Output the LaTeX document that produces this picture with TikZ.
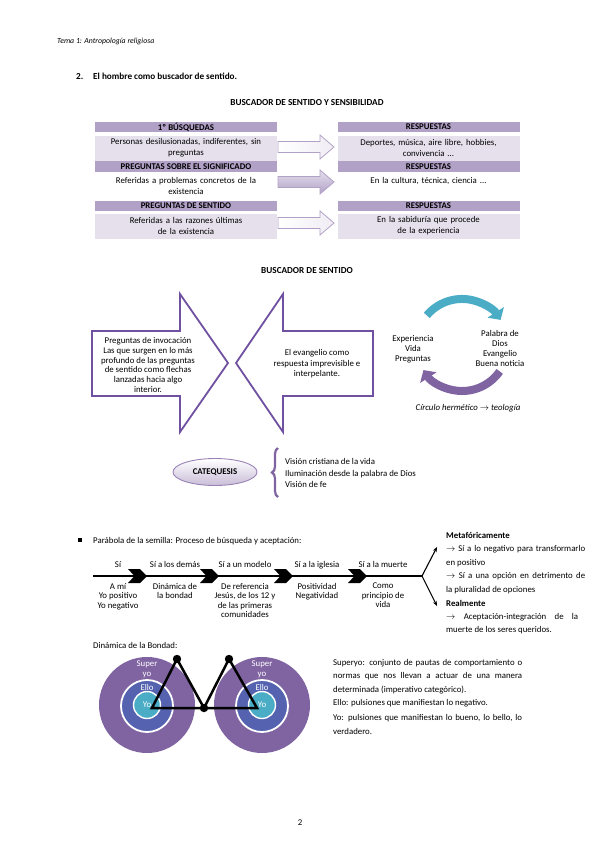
\documentclass[tikz,border=0pt]{standalone}
\usepackage{fontspec}
\setmainfont{Carlito}
\usetikzlibrary{arrows.meta,decorations.pathreplacing,shapes.geometric}
\definecolor{hdrc}{RGB}{178,161,199}
\definecolor{lightc}{RGB}{229,224,236}
\definecolor{purplec}{RGB}{128,100,162}
\definecolor{darkpc}{RGB}{112,80,160}
\definecolor{tealc}{RGB}{75,172,198}
\definecolor{bluec}{RGB}{84,98,176}
\newcommand\fsz{\fontsize{8.8}{10}\selectfont}
\newcommand\fsm{\fontsize{7.8}{9}\selectfont}
\newcommand\fst{\fontsize{9.2}{11}\selectfont}
\tikzset{
  every node/.style={inner sep=0pt, font=\fsz},
  hdr/.style={fill=hdrc, minimum width=182pt, minimum height=10.5pt, font=\fsz\bfseries},
  cell/.style={minimum width=182pt, minimum height=25pt, align=center, text width=178pt, font=\fontsize{8.8}{11}\selectfont},
  tabarrow/.style={draw=hdrc, line width=0.8pt, left color=white, right color=lightc!60},
  tabarrowfill/.style={draw=hdrc, line width=0.8pt, top color=lightc, bottom color=hdrc},
  bigarrow/.style={draw=darkpc, line width=1.8pt, fill=white, line join=miter},
  lbl/.style={anchor=base, align=center, font=\fsz},
  ring/.style={circle, draw=white, line width=1.8pt},
}
\newcommand\tarrow[2]{\draw[#2] (278,#1-5.5)--(320,#1-5.5)--(320,#1-12)--(334,#1)--(320,#1+12)--(320,#1+5.5)--(278,#1+5.5)--cycle;}
\newcommand\chevron[1]{\fill (#1,569)--(#1+12,569)--(#1+19,576)--(#1+12,583)--(#1,583)--(#1+6.5,576)--cycle;}
\begin{document}
\begin{tikzpicture}[x=1pt,y=-1pt]
\useasboundingbox (0,0) rectangle (599,848);
\fill[white] (0,0) rectangle (599,848);

% header
\node[anchor=base west, font=\fsm\itshape] (tema) at (57,44) {Tema 1: Antropología religiosa};
\node[anchor=base west, font=\fst\bfseries] (num) at (76,80) {2.};
\node[anchor=base west, font=\fst\bfseries] (tit) at (93,80) {El hombre como buscador de sentido.};
\node[anchor=base, font=\fst\bfseries] (t1) at (307,106) {BUSCADOR DE SENTIDO Y SENSIBILIDAD};

% table
\node[hdr] (h1) at (186,127) {1º BÚSQUEDAS};
\node[cell, fill=lightc] (c1) at (186,148) {Personas desilusionadas, indiferentes, sin\\preguntas};
\node[hdr] (h2) at (186,166.5) {PREGUNTAS SOBRE EL SIGNIFICADO};
\node[cell] (c2) at (186,186) {Referidas a problemas concretos de la\\existencia};
\node[hdr] (h3) at (186,206) {PREGUNTAS DE SENTIDO};
\node[cell, fill=lightc] (c3) at (186,226) {Referidas a las razones últimas\\de la existencia};

\node[hdr] (r1) at (428.5,127) {RESPUESTAS};
\node[cell, fill=lightc] (d1) at (428.5,148) {Deportes, música, aire libre, hobbies,\\convivencia ...};
\node[hdr] (r2) at (428.5,166.5) {RESPUESTAS};
\node[cell] (d2) at (428.5,186) {En la cultura, técnica, ciencia ...\\\mbox{}};
\node[hdr] (r3) at (428.5,206) {RESPUESTAS};
\node[cell, fill=lightc] (d3) at (428.5,226) {En la sabiduría que procede\\de la experiencia};

\tarrow{147}{tabarrow}
\tarrow{182}{tabarrowfill}
\tarrow{223}{tabarrow}

% buscador de sentido
\node[anchor=base, font=\fst\bfseries] (t2) at (307,273) {BUSCADOR DE SENTIDO};
\draw[bigarrow] (92,331)--(180,331)--(180,294)--(228,363)--(180,432)--(180,396)--(92,396)--cycle;
\draw[bigarrow] (373,331)--(283,331)--(283,294)--(236,363)--(283,432)--(283,396)--(373,396)--cycle;
\node[align=center, font=\fontsize{8.8}{9.8}\selectfont] (inv) at (148,365) {Preguntas de invocación\\Las que surgen en lo más\\profundo de las preguntas\\de sentido como flechas\\lanzadas hacia algo\\interior.};
\node[align=center, font=\fontsize{8.8}{10.5}\selectfont] (evg) at (317,364) {El evangelio como\\respuesta imprevisible e\\interpelante.};

% cycle
\draw[line width=8pt, tealc, -{Triangle[length=9pt,width=19pt]}] (426.8,315.4) arc[start angle=-140, end angle=-33, radius=46];
\draw[line width=8pt, purplec, -{Triangle[length=9pt,width=19pt]}] (499.7,371.4) arc[start angle=35, end angle=147, radius=46];
\node[align=center, font=\fontsize{8.8}{9.8}\selectfont] (exp) at (413,349) {Experiencia\\Vida\\Preguntas};
\node[align=center, font=\fontsize{8.8}{9.8}\selectfont] (pal) at (500,348.5) {Palabra de\\Dios\\Evangelio\\Buena noticia};
\node[anchor=base, font=\fsz\itshape] (circ) at (468,410) {Círculo hermético $\rightarrow$ teología};

% catequesis
\node[ellipse, minimum width=84pt, minimum height=27pt, draw=purplec!80, line width=0.9pt, top color=white, bottom color=hdrc!70, font=\fsz\bfseries] (cat) at (215,472) {CATEQUESIS};
\draw[purplec, line width=2.2pt, decorate, decoration={brace, amplitude=6pt}] (278,497) -- (278,448);
\node[anchor=base west] (v1) at (285,464) {Visión cristiana de la vida};
\node[anchor=base west] (v2) at (285,476) {Iluminación desde la palabra de Dios};
\node[anchor=base west] (v3) at (285,487.5) {Visión de fe};

% parabola
\fill (78,538) rectangle (82,542);
\node[anchor=base west] (par) at (93,543) {Parábola de la semilla: Proceso de búsqueda y aceptación:};
\coordinate (ls) at (93,576);
\coordinate (br) at (422,576);
\draw[line width=2.2pt] (ls) -- (br);
\chevron{128}
\chevron{200}
\chevron{274}
\chevron{348}
\node[lbl] (s1) at (118,567.5) {Sí};
\node[lbl] (s2) at (175,567.5) {Sí a los demás};
\node[lbl] (s3) at (245,567.5) {Sí a un modelo};
\node[lbl] (s4) at (317,567.5) {Sí a la iglesia};
\node[lbl] (s5) at (383,567.5) {Sí a la muerte};
\node[lbl, anchor=north, font=\fontsize{8.8}{9.5}\selectfont] (b1) at (118,583) {A mí\\Yo positivo\\Yo negativo};
\node[lbl, anchor=north, font=\fontsize{8.8}{9.5}\selectfont] (b2) at (175,583) {Dinámica de\\la bondad};
\node[lbl, anchor=north, font=\fontsize{8.8}{9.5}\selectfont] (b3) at (245,583) {De referencia\\Jesús, de los 12 y\\de las primeras\\comunidades};
\node[lbl, anchor=north, font=\fontsize{8.8}{9.5}\selectfont] (b4) at (317,583) {Positividad\\Negatividad};
\node[lbl, anchor=north, font=\fontsize{8.8}{9.5}\selectfont] (b5) at (383,583) {Como\\principio de\\vida};
\coordinate (up) at (437,547);
\coordinate (dn) at (437,606);
\draw[line width=1.1pt, -{Stealth[length=5pt,width=4pt]}] (br) -- (up);
\draw[line width=1.1pt, -{Stealth[length=5pt,width=4pt]}] (br) -- (dn);
\node[anchor=base west, font=\fsz\bfseries] (m0) at (446,538) {Metafóricamente};
\node[anchor=base west] (m1) at (446,551.5) {\makebox[139pt][s]{$\rightarrow$ Sí a lo negativo para transformarlo}};
\node[anchor=base west] (m2) at (446,565) {en positivo};
\node[anchor=base west] (m3) at (446,578.5) {\makebox[139pt][s]{$\rightarrow$ Sí a una opción en detrimento de}};
\node[anchor=base west] (m4) at (446,592) {la pluralidad de opciones};
\node[anchor=base west, font=\fsz\bfseries] (m5) at (446,606) {Realmente};
\node[anchor=base west] (m6) at (446,619.5) {\makebox[132pt][s]{$\rightarrow$ Aceptación-integración de la}};
\node[anchor=base west] (m7) at (446,632.5) {muerte de los seres queridos.};

% dinamica de la bondad
\node[anchor=base west] (din) at (93,648) {Dinámica de la Bondad:};
\foreach \cx/\nm in {147/L, 262/R}{
  \node[circle, fill=purplec, minimum size=96pt] (o\nm) at (\cx,705) {};
  \node[ring, fill=bluec, minimum size=52pt] (e\nm) at (\cx,706) {};
  \node[ring, fill=tealc, minimum size=27pt, line width=1.4pt] (y\nm) at (\cx,705) {};
  \node[lbl, text=white] (sup\nm) at (\cx,666) {Super};
  \node[lbl, text=white] (syo\nm) at (\cx,676) {yo};
  \node[lbl, text=white] (ello\nm) at (\cx,690) {Ello};
  \node[lbl, text=white] (yo\nm) at (\cx,707.5) {Yo};
}
\coordinate (A) at (152,708);
\coordinate (B) at (177,659);
\coordinate (C) at (204,708);
\coordinate (D) at (229,659);
\coordinate (E) at (257,708);
\draw[line width=2.5pt, line join=miter] (A)--(B)--(C)--(D)--(E)--cycle;
\fill (B) circle (4.2);
\fill (C) circle (4.2);
\fill (D) circle (4.2);

\node[anchor=base west] (p1) at (333,665) {\makebox[189pt][s]{Superyo: conjunto de pautas de comportamiento o}};
\node[anchor=base west] (p2) at (333,678.5) {\makebox[189pt][s]{normas que nos llevan a actuar de una manera}};
\node[anchor=base west] (p3) at (333,692) {determinada (imperativo categórico).};
\node[anchor=base west] (p4) at (333,705.5) {Ello: pulsiones que manifiestan lo negativo.};
\node[anchor=base west] (p5) at (333,720.5) {\makebox[189pt][s]{Yo: pulsiones que manifiestan lo bueno, lo bello, lo}};
\node[anchor=base west] (p6) at (333,734.5) {verdadero.};

\node[anchor=base] (pg) at (300,825) {2};
\end{tikzpicture}
\end{document}
